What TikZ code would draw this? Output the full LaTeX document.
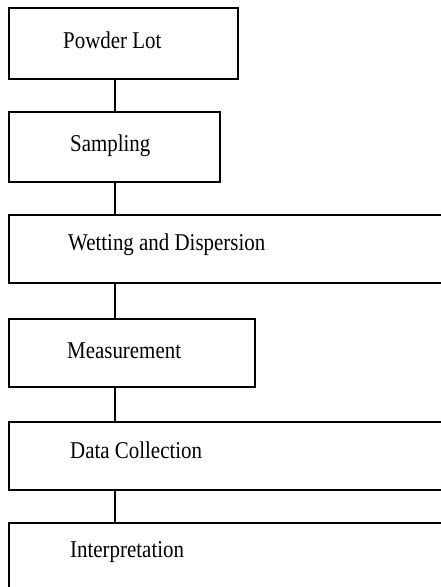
\documentclass[tikz,border=0pt]{standalone}
\usepackage{fontspec}
\setmainfont{Liberation Serif}
\begin{document}
\begin{tikzpicture}[x=1bp,y=-1bp,
  box/.style={draw=black, line width=1.6bp, rectangle, inner sep=0pt, anchor=north west},
  lbl/.style={inner sep=0pt, anchor=base west, font=\fontsize{21}{24}\selectfont},
  conn/.style={draw=black, line width=1.6bp}]
\useasboundingbox (0,0) rectangle (441,587);
\clip (0,0) rectangle (441,587);
\node[box, minimum width=229bp, minimum height=71bp] (b1) at (8,7) {};
\node[box, minimum width=211bp, minimum height=70bp] (b2) at (8,111) {};
\node[box, minimum width=460bp, minimum height=68bp] (b3) at (8,214) {};
\node[box, minimum width=246bp, minimum height=68bp] (b4) at (8,318) {};
\node[box, minimum width=460bp, minimum height=68bp] (b5) at (8,421) {};
\node[box, minimum width=460bp, minimum height=80bp] (b6) at (8,522) {};
\node[lbl] (t1) at (63,49) {\scalebox{1}[1.15]{Powder Lot}};
\node[lbl] (t2) at (70,152) {\scalebox{1}[1.15]{Sampling}};
\node[lbl] (t3) at (68,250) {\scalebox{1}[1.15]{Wetting and Dispersion}};
\node[lbl] (t4) at (67,358) {\scalebox{1}[1.15]{Measurement}};
\node[lbl] (t5) at (70,458) {\scalebox{1}[1.15]{Data Collection}};
\node[lbl] (t6) at (70,557) {\scalebox{1}[1.15]{Interpretation}};
\draw[conn] (b1.south west) ++(107,0) coordinate (c1) -- (c1 |- b2.north);
\draw[conn] (b2.south west) ++(107,0) coordinate (c2) -- (c2 |- b3.north);
\draw[conn] (b3.south west) ++(107,0) coordinate (c3) -- (c3 |- b4.north);
\draw[conn] (b4.south west) ++(107,0) coordinate (c4) -- (c4 |- b5.north);
\draw[conn] (b5.south west) ++(107,0) coordinate (c5) -- (c5 |- b6.north);
\end{tikzpicture}
\end{document}
